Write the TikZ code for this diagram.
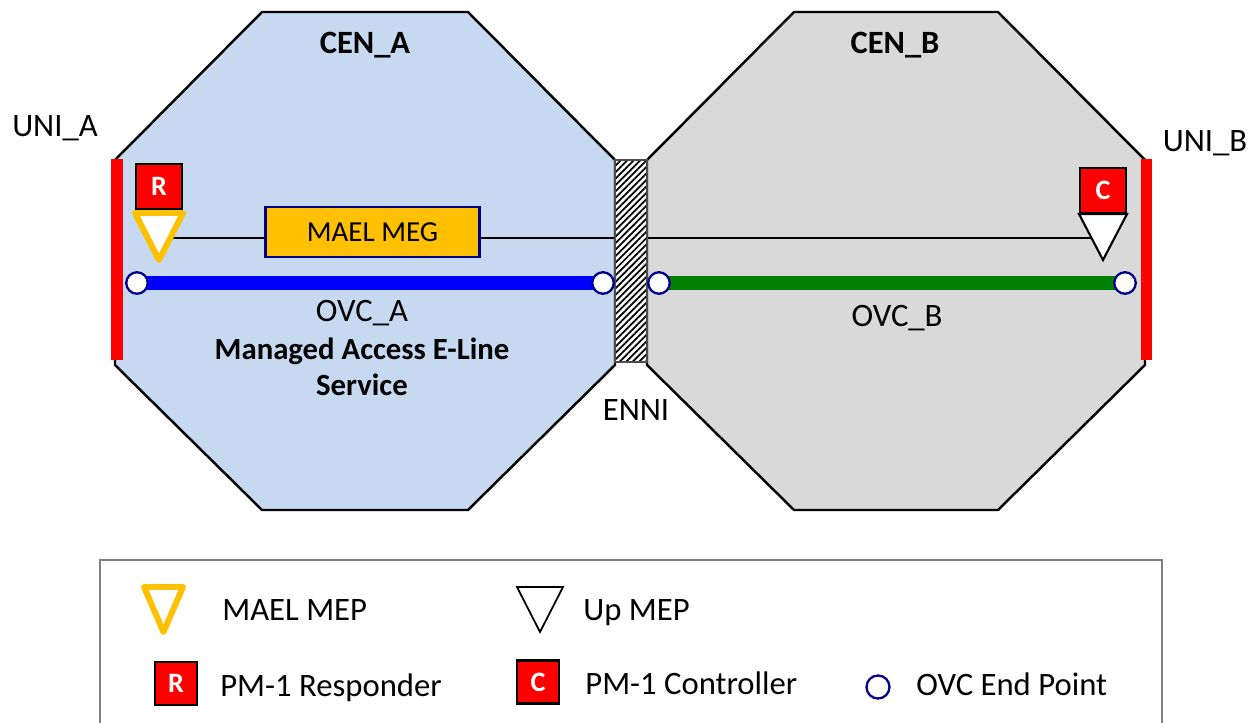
\documentclass[tikz,border=0pt]{standalone}
\usepackage{fontspec}
\setmainfont{Carlito}
\usetikzlibrary{patterns.meta}
\definecolor{cenblue}{RGB}{198,217,240}
\definecolor{cengray}{RGB}{217,217,217}
\definecolor{megorange}{RGB}{255,192,0}
\definecolor{epnavy}{RGB}{0,0,140}
\definecolor{ovcgreen}{RGB}{0,128,0}
\begin{document}
\begin{tikzpicture}[x=0.02cm,y=-0.02cm,
	lbl/.style={inner sep=0pt,font=\fontsize{18.6}{21}\selectfont},
	boldlbl/.style={inner sep=0pt,font=\fontsize{17.5}{20.5}\selectfont\bfseries},
	cen/.style={draw=black,line width=1.4pt},
	pmbox/.style={draw=black,line width=1.2pt,fill=red,text=white,inner sep=0pt,
		font=\fontsize{16}{16}\selectfont\bfseries,minimum width=0.92cm,minimum height=0.9cm},
	ovcep/.style={circle,draw=epnavy,fill=white,line width=1.3pt,minimum size=0.43cm,inner sep=0pt},
	maelmep/.style={draw=megorange,fill=white,line width=3.4pt,line join=round},
	upmep/.style={draw=black,fill=white,line width=1pt},
	ovc/.style={line width=0.29cm},
	uni/.style={red,line width=0.23cm}]
	\useasboundingbox (0,0) rectangle (1255,723);
	% the two CENs
	\draw[cen,fill=cenblue] (262,12)--(468,12)--(615,160)--(615,365)--(468,510)--(262,510)--(115,365)--(115,160)--cycle;
	\draw[cen,fill=cengray] (794,12)--(998,12)--(1145,160)--(1145,365)--(998,510)--(794,510)--(647,365)--(647,160)--cycle;
	\node[boldlbl,font=\fontsize{18.5}{21}\selectfont\bfseries] (cena) at (365,45) {CEN\_A};
	\node[boldlbl,font=\fontsize{18.5}{21}\selectfont\bfseries] (cenb) at (895,45) {CEN\_B};
	% MEG line
	\coordinate (mepa) at (170,238);
	\coordinate (mepc) at (1091,238);
	\draw[line width=1.6pt] (mepa)--(mepc);
	\node[draw=epnavy,fill=megorange,line width=1.2pt,minimum width=4.28cm,minimum height=1cm,
		font=\fontsize{16.5}{16.5}\selectfont] (meg) at (372.5,232) {MAEL MEG};
	% ENNI
	\fill[white] (615,160) rectangle (647,362);
	\fill[pattern={Lines[angle=45,distance=2.6pt,line width=1pt]}] (615,160) rectangle (647,362);
	\draw[gray!60!black,line width=1.2pt] (615,160) rectangle (647,362);
	\node[lbl] (enni) at (636,410) {ENNI};
	% UNIs
	\draw[uni] (117,159)--(117,360);
	\draw[uni] (1146.5,159)--(1146.5,360);
	\node[lbl] (unia) at (55,128) {UNI\_A};
	\node[lbl] (unib) at (1205,143) {UNI\_B};
	% OVCs
	\coordinate (a1) at (137,283);
	\coordinate (a2) at (603,283);
	\coordinate (b1) at (659,283);
	\coordinate (b2) at (1125,283);
	\draw[ovc,blue] (a1)--(a2);
	\draw[ovc,ovcgreen] (b1)--(b2);
	\foreach \p in {a1,a2,b1,b2}
		\node[ovcep] (ep\p) at (\p) {};
	\node[lbl] (ovca) at (362,313) {OVC\_A};
	\node[boldlbl,align=center] (maes) at (362,367) {Managed Access E-Line\\Service};
	\node[lbl] (ovcb) at (897,318) {OVC\_B};
	% MEPs
	\draw[maelmep] (135,213)--(183,213)--(159,260)--cycle;
	\node[pmbox] (resp) at (159,186.5) {R};
	\draw[upmep,line width=1.2pt] (1079,214)--(1127,214)--(1103,260)--cycle;
	\node[pmbox] (ctrl) at (1103,190.5) {C};
	% legend
	\draw[gray,line width=1pt] (100,560) rectangle (1162,740);
	\draw[maelmep] (144,587)--(183,587)--(163.5,632)--cycle;
	\node[lbl,anchor=base west] (lgmael) at (222,620) {MAEL MEP};
	\draw[upmep] (517,587)--(563,587)--(540,632)--cycle;
	\node[lbl,anchor=base west] (lgup) at (583,620) {Up MEP};
	\node[pmbox,minimum width=0.84cm,minimum height=0.86cm] (lgr) at (176,683.5) {R};
	\node[lbl,anchor=base west] (lgresp) at (220,696) {PM-1 Responder};
	\node[pmbox,minimum width=0.84cm,minimum height=0.86cm] (lgc) at (538,682) {C};
	\node[lbl,anchor=base west] (lgctrl) at (585,694) {PM-1 Controller};
	\node[ovcep,minimum size=0.46cm] (lgep) at (878,687) {};
	\node[lbl,anchor=base west] (lgend) at (916,695) {OVC End Point};
\end{tikzpicture}
\end{document}
